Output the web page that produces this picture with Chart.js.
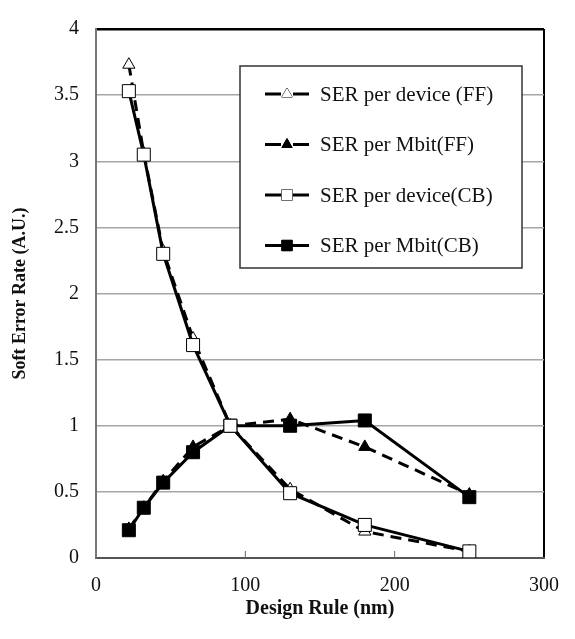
<!DOCTYPE html>
<html>
<head>
<meta charset="utf-8">
<script src="https://cdn.jsdelivr.net/npm/chart.js@4.4.1/dist/chart.umd.min.js"></script>
<style>
  html, body { margin: 0; padding: 0; background: #fff; }
  #wrap { width: 575px; height: 639px; position: relative; }
</style>
</head>
<body>
<div id="wrap"><canvas id="serChart"></canvas></div>
<script>
// Data
const designRule = [22, 32, 45, 65, 90, 130, 180, 250];
const serDeviceFF = [3.73, 3.06, 2.32, 1.66, 1.0, 0.52, 0.2, 0.05];
const serMbitFF = [0.22, 0.38, 0.58, 0.84, 1.0, 1.05, 0.84, 0.48];
const serDeviceCB = [3.53, 3.05, 2.30, 1.61, 1.0, 0.49, 0.25, 0.05];
const serMbitCB = [0.21, 0.38, 0.57, 0.80, 1.0, 1.0, 1.04, 0.46];
const xTicks = [0, 100, 200, 300];

const pts = arr => arr.map((v, i) => ({ x: designRule[i], y: v }));
const serif = '"Liberation Serif", "Times New Roman", serif';

// Legend drawn inside the plot area
const innerLegend = {
    id: 'innerLegend',
    afterDraw(chart) {
        const c = chart.ctx;
        const a = chart.chartArea;
        const x0 = a.left + 144, y0 = a.top + 37, w = 282, h = 202;
        c.save();
        c.setLineDash([]);
        c.fillStyle = '#fff';
        c.fillRect(x0, y0, w, h);
        c.strokeStyle = '#333';
        c.lineWidth = 1.5;
        c.strokeRect(x0, y0, w, h);
        chart.data.datasets.forEach((ds, i) => {
            const y = y0 + 28 + i * 50.5;
            const lx = x0 + 25, rx = x0 + 69, mx = (lx + rx) / 2;
            c.fillStyle = '#000';
            if (ds.borderDash) {
                // dashed series: one piece on each side of the marker
                c.fillRect(lx, y - 1.5, 16, 3);
                c.fillRect(rx - 16, y - 1.5, 16, 3);
            } else {
                c.fillRect(lx, y - 1.5, rx - lx, 3);
            }
            c.lineWidth = 1;
            c.fillStyle = ds.pointBackgroundColor;
            c.strokeStyle = '#000';
            Chart.helpers.drawPoint(c, {
                pointStyle: ds.pointStyle, radius: ds.pointStyle === 'rect' ? 7.5 : 6, rotation: 0, borderWidth: 1
            }, mx, y);
            c.fill();
            c.fillStyle = '#111';
            c.font = '21px ' + serif;
            c.textBaseline = 'middle';
            c.fillText(ds.label, x0 + 80, y + 1);
        });
        // inner tick marks on the x axis
        const xs = chart.scales.x;
        c.strokeStyle = '#666';
        c.lineWidth = 1;
        [100, 200].forEach(v => {
            const px = xs.getPixelForValue(v);
            c.beginPath(); c.moveTo(px, a.bottom); c.lineTo(px, a.bottom - 7); c.stroke();
        });
        c.restore();
    }
};

const ctx = document.getElementById('serChart').getContext('2d');
const chart = new Chart(ctx, {
    type: 'scatter',
    data: {
        datasets: [
            { label: 'SER per device (FF)', data: pts(serDeviceFF), showLine: true, borderColor: '#000',
              borderWidth: 3, borderDash: [11, 7], pointStyle: 'triangle', pointRadius: 7,
              pointBackgroundColor: '#fff', pointBorderColor: '#000', pointBorderWidth: 1, order: 3 },
            { label: 'SER per Mbit(FF)', data: pts(serMbitFF), showLine: true, borderColor: '#000',
              borderWidth: 3, borderDash: [11, 7], pointStyle: 'triangle', pointRadius: 7,
              pointBackgroundColor: '#000', pointBorderColor: '#000', pointBorderWidth: 1, order: 4 },
            { label: 'SER per device(CB)', data: pts(serDeviceCB), showLine: true, borderColor: '#000',
              borderWidth: 3, pointStyle: 'rect', pointRadius: 9.2,
              pointBackgroundColor: '#fff', pointBorderColor: '#000', pointBorderWidth: 1, order: 1 },
            { label: 'SER per Mbit(CB)', data: pts(serMbitCB), showLine: true, borderColor: '#000',
              borderWidth: 3, pointStyle: 'rect', pointRadius: 9.2,
              pointBackgroundColor: '#000', pointBorderColor: '#000', pointBorderWidth: 1, order: 2 }
        ]
    },
    options: {
        responsive: true,
        maintainAspectRatio: false,
        animation: false,
        layout: { padding: { top: 12, right: 18, left: 0, bottom: 0 } },
        scales: {
            x: {
                type: 'linear', min: 0, max: 300,
                afterBuildTicks: s => { s.ticks = xTicks.map(v => ({ value: v })); },
                afterFit: s => { s.height = 81; },
                border: { color: '#555', width: 2 },
                grid: {
                    drawTicks: false,
                    color: c => c.tick.value === 300 ? '#000' : 'rgba(0,0,0,0)',
                    lineWidth: 2
                },
                ticks: { color: '#111', padding: 16, font: { family: serif, size: 20 } },
                title: { display: true, text: 'Design Rule (nm)', color: '#111',
                         padding: { top: 0, bottom: 18 }, font: { family: serif, size: 20, weight: 'bold' } }
            },
            y: {
                min: 0, max: 4,
                ticks: { stepSize: 0.5, color: '#111', padding: 17, font: { family: serif, size: 20 },
                         callback: v => String(Number(v)) },
                afterFit: s => { s.width = 96; },
                border: { color: '#777', width: 2 },
                grid: {
                    drawTicks: false,
                    color: c => c.tick.value === 4 ? '#000' : '#a6a6a6',
                    lineWidth: c => c.tick.value === 4 ? 2.5 : 1.5
                },
                title: { display: true, text: 'Soft Error Rate (A.U.)', color: '#111',
                         padding: { top: 10, bottom: 0 }, font: { family: serif, size: 18, weight: 'bold' } }
            }
        },
        plugins: { legend: { display: false }, tooltip: { enabled: false } }
    },
    plugins: [innerLegend]
});
</script>
</body>
</html>
